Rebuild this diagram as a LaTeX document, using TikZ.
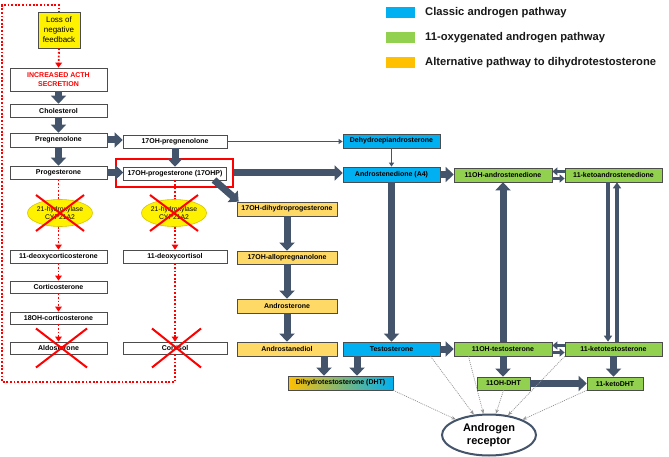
\documentclass[tikz,border=0pt]{standalone}
\usepackage{fontspec}
\setmainfont{Liberation Sans}
\usetikzlibrary{arrows.meta,calc,shapes.geometric}
\definecolor{cblue}{HTML}{00B0F0}
\definecolor{cgreen}{HTML}{92D050}
\definecolor{corange}{HTML}{FFC000}
\definecolor{cpale}{HTML}{FFD966}
\definecolor{arrowc}{HTML}{44546A}
\definecolor{ellborder}{HTML}{D6C200}
\tikzset{
  box/.style={draw=black!70, line width=0.7pt, fill=white, minimum height=13pt, inner sep=0pt,
    font=\bfseries\fontsize{7}{8.5}\selectfont, text=black},
  cls/.style={box, fill=cblue},
  oxy/.style={box, fill=cgreen},
  alt/.style={box, fill=cpale},
  enz/.style={ellipse, fill=yellow, draw=ellborder, line width=0.6pt, minimum width=65pt, minimum height=27pt,
    inner xsep=-3pt, inner ysep=0pt, align=center, font=\fontsize{6.8}{7.6}\selectfont},
  fat/.style={draw=arrowc, line width=7pt, -{Triangle[width=15pt,length=8pt]}},
  midarr/.style={draw=arrowc, line width=3.5pt, -{Triangle[width=8pt,length=6pt]}},
  smallarr/.style={draw=arrowc, line width=3.2pt, -{Triangle[width=8pt,length=5pt]}},
  thinarr/.style={draw=arrowc, line width=1.4pt, -{Triangle[width=5pt,length=4pt]}},
  reddot/.style={draw=red, line width=1.8pt, dash pattern=on 1.8pt off 1.8pt},
  redarrow/.style={reddot, -{Triangle[width=6.5pt,length=5pt]}},
  redx/.style={draw=red, line width=2pt},
  toar/.style={draw=gray!85, line width=0.7pt, dash pattern=on 1pt off 1pt, -{Stealth[length=4.5pt,width=3.5pt]}},
  legsw/.style={minimum width=29pt, minimum height=11pt, inner sep=0pt},
  legtext/.style={anchor=west, inner sep=0pt, font=\bfseries\fontsize{11.2}{13}\selectfont, text=black!90}
}
\begin{document}
\begin{tikzpicture}[x=1pt,y=-1pt]
\useasboundingbox[fill=white] (0,0) rectangle (669,457);

% legend
\node[legsw, fill=cblue] (lg1) at (400.5,12.5) {};
\node[legsw, fill=cgreen] (lg2) at (400.5,37.5) {};
\node[legsw, fill=corange] (lg3) at (400.5,62.5) {};
\node[legtext] (lt1) at (425,12.5) {Classic androgen pathway};
\node[legtext] (lt2) at (425,37.5) {11-oxygenated androgen pathway};
\node[legtext] (lt3) at (425,62.5) {Alternative pathway to dihydrotestosterone};

% left column
\node[box, fill=yellow, minimum width=42pt, minimum height=36pt, font=\fontsize{8}{10}\selectfont, align=center] (loss) at (59,30) {Loss of\\negative\\feedback};
\node[box, minimum width=97pt, minimum height=23pt, text=red, align=center] (acth) at (58.5,79.5) {INCREASED ACTH\\SECRETION};
\node[box, minimum width=97pt] (chol) at (58.5,110.5) {Cholesterol};
\node[box, minimum width=97pt, minimum height=14pt] (preg) at (58.5,140) {Pregnenolone};
\node[box, minimum width=97pt] (prog) at (58.5,172.5) {Progesterone};
\node[enz] (enz1) at (60,213) {21-hydroxylase\\CYP21A2};
\node[box, minimum width=97pt] (doc) at (58.5,256.5) {11-deoxycorticosterone};
\node[box, minimum width=97pt, minimum height=12pt] (cortico) at (58.5,287) {Corticosterone};
\node[box, minimum width=97pt, minimum height=12pt] (ohcort) at (58.5,318) {18OH-corticosterone};
\node[box, minimum width=97pt, minimum height=12pt] (aldo) at (58.5,348) {Aldosterone};

% second column
\node[box, minimum width=104pt] (ohpreg) at (175,141.5) {17OH-pregnenolone};
\node[box, minimum width=103pt] (ohp) at (175,173.5) {17OH-progesterone (17OHP)};
\node[draw=red, line width=2pt, minimum width=117pt, minimum height=28pt, inner sep=0pt] (ohpframe) at (174.5,173) {};
\node[enz] (enz2) at (174,213) {21-hydroxylase\\CYP21A2};
\node[box, minimum width=104pt] (dcort) at (175,256.5) {11-deoxycortisol};
\node[box, minimum width=104pt, minimum height=12pt] (cortisol) at (175,348) {Cortisol};

% alternative pathway
\node[alt, minimum width=100pt, minimum height=14pt] (ohdhp) at (287,209) {17OH-dihydroprogesterone};
\node[alt, minimum width=100pt] (allo) at (287,257.5) {17OH-allopregnanolone};
\node[alt, minimum width=100pt, minimum height=14pt] (andro) at (287,306) {Androsterone};
\node[alt, minimum width=100pt, minimum height=14pt] (adiol) at (287,349) {Androstanediol};

% classic
\node[cls, minimum width=97pt, minimum height=14pt] (dhea) at (391.5,141) {Dehydroepiandrosterone};
\node[cls, minimum width=97pt, minimum height=15pt] (a4) at (391.5,174.5) {Androstenedione (A4)};
\node[cls, minimum width=97pt, minimum height=14pt] (testo) at (391.5,349) {Testosterone};
\node[box, left color=corange, right color=cblue, minimum width=105pt, minimum height=14pt] (dht) at (340.5,383) {Dihydrotestosterone (DHT)};

% 11-oxygenated
\node[oxy, minimum width=98pt, minimum height=14pt] (oha4) at (503,175) {11OH-androstenedione};
\node[oxy, minimum width=97pt, minimum height=14pt] (ka4) at (613.5,175) {11-ketoandrostenedione};
\node[oxy, minimum width=98pt, minimum height=14pt] (oht) at (503,349) {11OH-testosterone};
\node[oxy, minimum width=97pt, minimum height=14pt] (kt) at (613.5,349) {11-ketotestosterone};
\node[oxy, minimum width=53pt] (ohdht) at (503.5,383.5) {11OH-DHT};
\node[oxy, minimum width=56pt] (kdht) at (615,383.5) {11-ketoDHT};

% receptor
\node[ellipse, draw=arrowc, line width=2pt, fill=white, minimum width=94pt, minimum height=41pt, inner sep=0pt,
  align=center, font=\bfseries\fontsize{11}{13}\selectfont] (ar) at (489,435) {Androgen\\receptor};

% helper coordinates
\coordinate (loopb) at (2,382);
\coordinate (loopt) at (2,5);
\coordinate (dstart) at (214,180);
\coordinate (xa) at (324,0);
\coordinate (xb) at (357,0);
\coordinate (xd) at (608,0);
\coordinate (xe) at (617,0);
\coordinate (ya) at (0,171.5);
\coordinate (yb) at (0,178.5);
\coordinate (yc) at (0,345.5);
\coordinate (yd) at (0,352.5);

% red dotted connectors
\draw[redarrow] (loss.south) -- (acth.north);
\draw[reddot] (prog.south) -- (prog.south |- enz1.north);
\draw[redarrow] (prog.south |- enz1.south) -- (doc.north);
\draw[redarrow] (doc.south) -- (cortico.north);
\draw[redarrow] (cortico.south) -- (ohcort.north);
\draw[redarrow] (ohcort.south) -- (aldo.north);
\draw[reddot] (ohp.south) -- (ohp.south |- enz2.north);
\draw[redarrow] (ohp.south |- enz2.south) -- (dcort.north);
\draw[redarrow] (dcort.south) -- (cortisol.north);
\draw[reddot] (cortisol.south) -- (cortisol.south |- loopb) -- (loopb) -- (loopt) -- (loss.north |- loopt) -- (loss.north);

% thick arrows
\draw[fat] (acth.south) -- (chol.north);
\draw[fat] (chol.south) -- (preg.north);
\draw[fat] (preg.south) -- (prog.north);
\draw[fat] (preg.east) -- (preg.east -| ohpreg.west);
\draw[fat] (ohpreg.south) -- (ohp.north);
\draw[fat] (prog.east) -- (prog.east -| ohp.west);
\draw[fat] (ohpframe.east) -- (ohpframe.east -| a4.west);
\draw[fat] (dstart) -- ($(ohdhp.north west)+(2,0)$);
\draw[fat] (ohdhp.south) -- (allo.north);
\draw[fat] (allo.south) -- (andro.north);
\draw[fat] (andro.south) -- (adiol.north);
\draw[fat] (adiol.south -| xa) -- (dht.north -| xa);
\draw[fat] (testo.south -| xb) -- (dht.north -| xb);
\draw[fat] (a4.south) -- (testo.north);
\draw[fat] (a4.east) -- (a4.east -| oha4.west);
\draw[fat] (testo.east) -- (testo.east -| oht.west);
\draw[fat] (oht.north) -- (oha4.south);
\draw[fat] (oht.south) -- (oht.south |- ohdht.north);
\draw[fat] (ohdht.east) -- (ohdht.east -| kdht.west);
\draw[fat] (kt.south) -- (kt.south |- kdht.north);

% medium / small arrows
\draw[midarr] (ka4.south -| xd) -- (kt.north -| xd);
\draw[midarr] (kt.north -| xe) -- (ka4.south -| xe);
\draw[smallarr] (ka4.west |- ya) -- (oha4.east |- ya);
\draw[smallarr] (oha4.east |- yb) -- (ka4.west |- yb);
\draw[smallarr] (kt.west |- yc) -- (oht.east |- yc);
\draw[smallarr] (oht.east |- yd) -- (kt.west |- yd);

% thin arrows
\draw[thinarr] (ohpreg.east) -- (ohpreg.east -| dhea.west);
\draw[thinarr] (dhea.south) -- (a4.north);

% to receptor
\draw[toar] ($(testo.south)!0.8!(testo.south east)$) -- (ar);
\draw[toar] (dht.south east) -- (ar);
\draw[toar] ($(oht.south west)!0.3!(oht.south)$) -- (ar);
\draw[toar] (ohdht.south) -- (ar);
\draw[toar] (kt.south west) -- (ar);
\draw[toar] (kdht.south west) -- (ar);

% red crosses
\draw[redx] ($(enz1)+(-24,-18)$) -- ($(enz1)+(24,18)$);
\draw[redx] ($(enz1)+(-24,18)$) -- ($(enz1)+(24,-18)$);
\draw[redx] ($(enz2)+(-24,-18)$) -- ($(enz2)+(24,18)$);
\draw[redx] ($(enz2)+(-24,18)$) -- ($(enz2)+(24,-18)$);
\draw[redx] ($(aldo)+(-22.5,-19.5)$) -- ($(aldo)+(28.5,19.5)$);
\draw[redx] ($(aldo)+(-22.5,19.5)$) -- ($(aldo)+(28.5,-19.5)$);
\draw[redx] ($(cortisol)+(-23,-19.5)$) -- ($(cortisol)+(26,19.5)$);
\draw[redx] ($(cortisol)+(-23,19.5)$) -- ($(cortisol)+(26,-19.5)$);
\end{tikzpicture}
\end{document}
